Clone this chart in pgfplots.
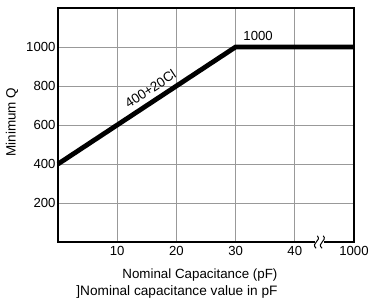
\documentclass[border=0pt]{standalone}
\usepackage{pgfplots}
\pgfplotsset{compat=1.18}
\usepackage{fontspec}
\setmainfont{Liberation Sans}
\begin{document}
\begin{tikzpicture}[x=1bp,y=1bp]
\begin{axis}[
  at={(0,0)}, anchor=south west,
  scale only axis, width=296bp, height=234bp,
  xmin=0, xmax=50, ymin=0, ymax=1200,
  xtick={10,20,30,40,50}, xticklabels={10,20,30,40,1000},
  ytick={200,400,600,800,1000},
  major tick length=0pt,
  grid=major,
  major grid style={line width=0.8pt, gray!80},
  axis line style={line width=1.8pt},
  tick label style={font=\fontsize{13.2}{14}\selectfont},
  /pgf/number format/assume math mode=true,
  /pgf/number format/1000 sep={},
  xticklabel style={yshift=-1bp},
  yticklabel style={xshift=1bp},
  clip=false,
]
\addplot[line width=4.8pt, black] coordinates {(0,400) (30,1000) (50,1000)};
\node[rotate=33.5, font=\fontsize{13.5}{14}\selectfont] at (axis cs:15.6,785) {400+20Cl};
\node[font=\fontsize{13.2}{14}\selectfont] at (axis cs:33.8,1058) {1000};
% axis break
\fill[white] (axis cs:43.4,-30) rectangle (axis cs:45.0,30);
\draw[line width=1pt] (axis cs:43.6,-32) .. controls (axis cs:42.6,-5) and (axis cs:44.6,5) .. (axis cs:43.8,32);
\draw[line width=1pt] (axis cs:44.6,-32) .. controls (axis cs:43.6,-5) and (axis cs:45.6,5) .. (axis cs:44.8,32);
\end{axis}
\node[rotate=90, font=\fontsize{13.5}{14}\selectfont] at (-46bp,120bp) {Minimum Q};
\node[font=\fontsize{13.4}{15}\selectfont, anchor=east] at (223bp,-33bp) {Nominal Capacitance (pF)};
\node[font=\fontsize{13.7}{15}\selectfont, anchor=east] at (223bp,-50bp) {]Nominal capacitance value in pF};
\pgfresetboundingbox
\useasboundingbox (-58bp,-62bp) rectangle (312bp,242bp);
\end{tikzpicture}
\end{document}
